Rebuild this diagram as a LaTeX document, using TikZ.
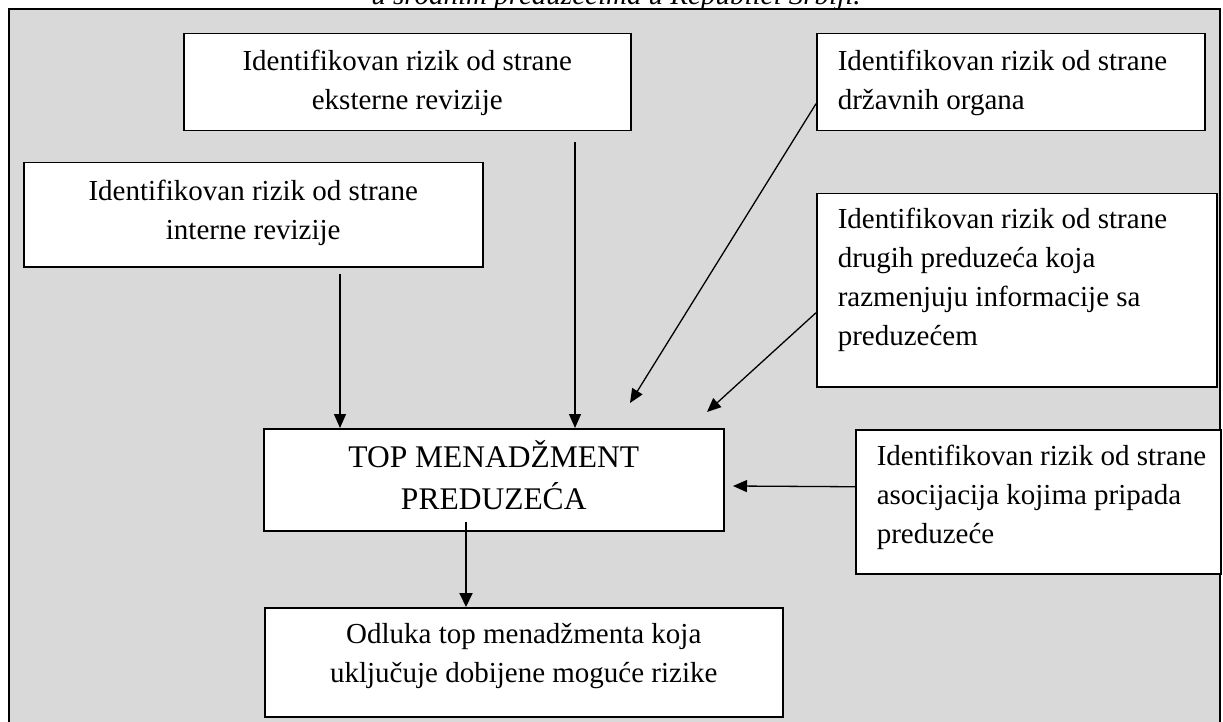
\documentclass[tikz,border=0pt]{standalone}
\usepackage{fontspec}
\setmainfont{Liberation Serif}
\usetikzlibrary{arrows.meta}
\definecolor{bgframe}{RGB}{217,217,217}
\tikzset{
  boxst/.style={draw=black, line width=1.5pt, fill=white, inner sep=0pt, anchor=north west},
  arr/.style={line width=1.3pt, -{Triangle[length=14pt,width=12pt]}},
  arrthick/.style={line width=2pt, -{Triangle[length=14pt,width=13pt]}},
}
% centred text box: width, height, first-baseline offset, text
\newcommand\cbox[4]{\parbox[c][#2][t]{#1}{\centering\fontsize{29pt}{39pt}\selectfont\rule{0pt}{#3}#4\par}}
% left-aligned text box
\newcommand\lbox[4]{\parbox[c][#2][t]{#1}{\raggedright\leftskip=21pt\fontsize{29pt}{39pt}\selectfont\rule{0pt}{#3}#4\par}}
\begin{document}
\begin{tikzpicture}[x=1pt,y=-1pt]
\useasboundingbox (0,0) rectangle (1223,722);
\fill[white] (0,0) rectangle (1223,722);
\node[anchor=base, font=\itshape\fontsize{29pt}{35pt}\selectfont] (cap) at (616,5) {u srodnim preduzećima u Republici Srbiji.};
\draw[line width=2pt, fill=bgframe] (9,9) rectangle (1220,745);

\node[boxst] (ekst) at (183,33) {\cbox{447pt}{97pt}{37pt}{Identifikovan rizik od strane\\eksterne revizije}};
\node[boxst] (int) at (23,162) {\cbox{459pt}{104pt}{38pt}{Identifikovan rizik od strane\\interne revizije}};
\node[boxst] (drz) at (816,33) {\lbox{388pt}{97pt}{37pt}{Identifikovan rizik od strane\\državnih organa}};
\node[boxst] (drugi) at (816,193) {\lbox{400pt}{193pt}{35pt}{Identifikovan rizik od strane\\drugih preduzeća koja\\razmenjuju informacije sa\\preduzećem}};
\node[boxst] (top) at (263,428) {\parbox[c][102pt][t]{460pt}{\centering\fontsize{31.5pt}{42pt}\selectfont\rule{0pt}{39pt}TOP MENADŽMENT\\PREDUZEĆA\par}};
\node[boxst] (asoc) at (855,429) {\lbox{365pt}{144pt}{36pt}{Identifikovan rizik od strane\\asocijacija kojima pripada\\preduzeće}};
\node[boxst] (odl) at (264,607) {\cbox{518pt}{109pt}{36pt}{Odluka top menadžmenta koja\\uključuje dobijene moguće rizike}};

\coordinate (s1) at (340,274);
\coordinate (s2) at (575,142);
\coordinate (e3) at (630,403);
\coordinate (e4) at (707,412);
\coordinate (e5) at (733,486);
\coordinate (s6) at (466,522);

\draw[arr] (s1) -- (s1 |- top.north);
\draw[arr] (s2) -- (s2 |- top.north);
\draw[arr] ([yshift=-21.5pt]drz.west) -- (e3);
\draw[arr] ([yshift=-22.5pt]drugi.west) -- (e4);
\draw[arr] ([yshift=15pt]asoc.west) -- (e5);
\draw[arrthick] (s6) -- (s6 |- odl.north);
\end{tikzpicture}
\end{document}
